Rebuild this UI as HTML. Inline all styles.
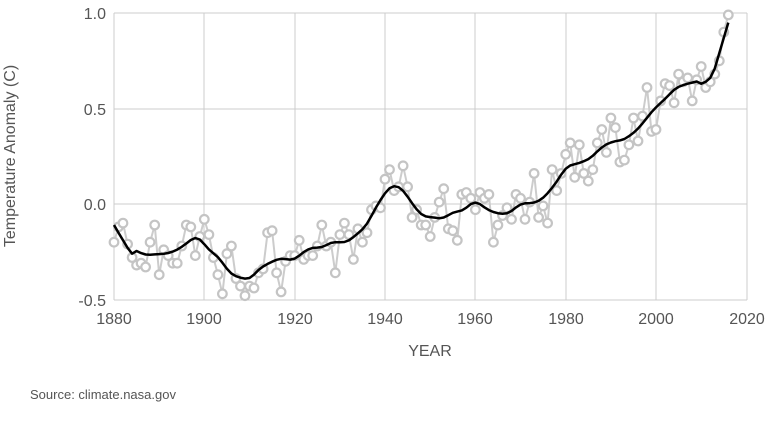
<!DOCTYPE html>
<html><head><style>
body{margin:0;background:#fff;width:768px;height:427px;overflow:hidden}
text{font-family:"Liberation Sans",sans-serif;fill:#555}
</style></head><body>
<svg id="s" width="768" height="427" xmlns="http://www.w3.org/2000/svg">
<g stroke="#ccc" stroke-width="1">
<line x1="114" y1="13" x2="747" y2="13"/><line x1="114" y1="109" x2="747" y2="109"/>
<line x1="114" y1="204" x2="747" y2="204"/><line x1="114" y1="300" x2="747" y2="300"/>
<line x1="114" y1="13" x2="114" y2="300"/><line x1="204" y1="13" x2="204" y2="300"/>
<line x1="295" y1="13" x2="295" y2="300"/><line x1="385" y1="13" x2="385" y2="300"/>
<line x1="475" y1="13" x2="475" y2="300"/><line x1="566" y1="13" x2="566" y2="300"/>
<line x1="656" y1="13" x2="656" y2="300"/><line x1="747" y1="13" x2="747" y2="300"/>
</g>
<g font-size="16" text-anchor="end">
<text x="106" y="19">1.0</text><text x="106" y="115">0.5</text>
<text x="106" y="210">0.0</text><text x="106" y="306">-0.5</text>
</g>
<g font-size="16" text-anchor="middle">
<text x="114" y="324">1880</text><text x="204" y="324">1900</text><text x="295" y="324">1920</text>
<text x="385" y="324">1940</text><text x="475" y="324">1960</text><text x="566" y="324">1980</text>
<text x="656" y="324">2000</text><text x="747" y="324">2020</text>
<text x="430" y="356">YEAR</text>
<text transform="translate(15,156) rotate(-90)">Temperature Anomaly (C)</text>
</g>
<text x="30" y="399" font-size="13">Source: climate.nasa.gov</text>
<g id="d"></g>
</svg>
<script>
var v=[-0.20,-0.12,-0.10,-0.21,-0.28,-0.32,-0.31,-0.33,-0.20,-0.11,-0.37,-0.24,-0.27,-0.31,-0.31,-0.22,-0.11,-0.12,-0.27,-0.17,-0.08,-0.16,-0.28,-0.37,-0.47,-0.26,-0.22,-0.39,-0.43,-0.48,-0.43,-0.44,-0.36,-0.34,-0.15,-0.14,-0.36,-0.46,-0.30,-0.27,-0.27,-0.19,-0.29,-0.27,-0.27,-0.22,-0.11,-0.22,-0.20,-0.36,-0.16,-0.10,-0.16,-0.29,-0.13,-0.20,-0.15,-0.03,-0.01,-0.02,0.13,0.18,0.07,0.09,0.20,0.09,-0.07,-0.03,-0.11,-0.11,-0.17,-0.07,0.01,0.08,-0.13,-0.14,-0.19,0.05,0.06,0.03,-0.03,0.06,0.03,0.05,-0.20,-0.11,-0.06,-0.02,-0.08,0.05,0.03,-0.08,0.01,0.16,-0.07,-0.01,-0.10,0.18,0.07,0.16,0.26,0.32,0.14,0.31,0.16,0.12,0.18,0.32,0.39,0.27,0.45,0.40,0.22,0.23,0.31,0.45,0.33,0.46,0.61,0.38,0.39,0.54,0.63,0.62,0.53,0.68,0.64,0.66,0.54,0.65,0.72,0.61,0.64,0.68,0.75,0.90,0.99];
function X(i){return 114+i*4.517}function Y(t){return 204-t*191}
var p="",c="",sm=[];
for(var i=0;i<v.length;i++){p+=(i?"L":"M")+X(i).toFixed(1)+","+Y(v[i]).toFixed(1);
c+='<circle cx="'+X(i).toFixed(1)+'" cy="'+Y(v[i]).toFixed(1)+'" r="4.3"/>';
var s=0,w=0;for(var j=-5;j<=5;j++){var k=i+j;if(k<0||k>=v.length)continue;var ww=Math.pow(1-Math.pow(Math.abs(j)/6,3),3);s+=v[k]*ww;w+=ww;}
sm.push(s/w);}
sm[0]=-0.11;sm[1]=-0.15;sm[2]=-0.19;sm[3]=-0.23;sm[4]=-0.26;
var l=v.length;var tail=[0.63,0.64,0.66,0.71,0.79,0.87,0.95];
for(var t=0;t<7;t++)sm[l-7+t]=tail[t];
var q="";for(var i=0;i<l;i++)q+=(i?"L":"M")+X(i).toFixed(1)+","+Y(sm[i]).toFixed(1);
document.getElementById("d").innerHTML='<path d="'+p+'" fill="none" stroke="#ccc" stroke-width="2"/><g fill="#fff" stroke="#c4c4c4" stroke-width="2.2">'+c+'</g><path d="'+q+'" fill="none" stroke="#000" stroke-width="2.5" stroke-linejoin="round"/>';
</script>
</body></html>
